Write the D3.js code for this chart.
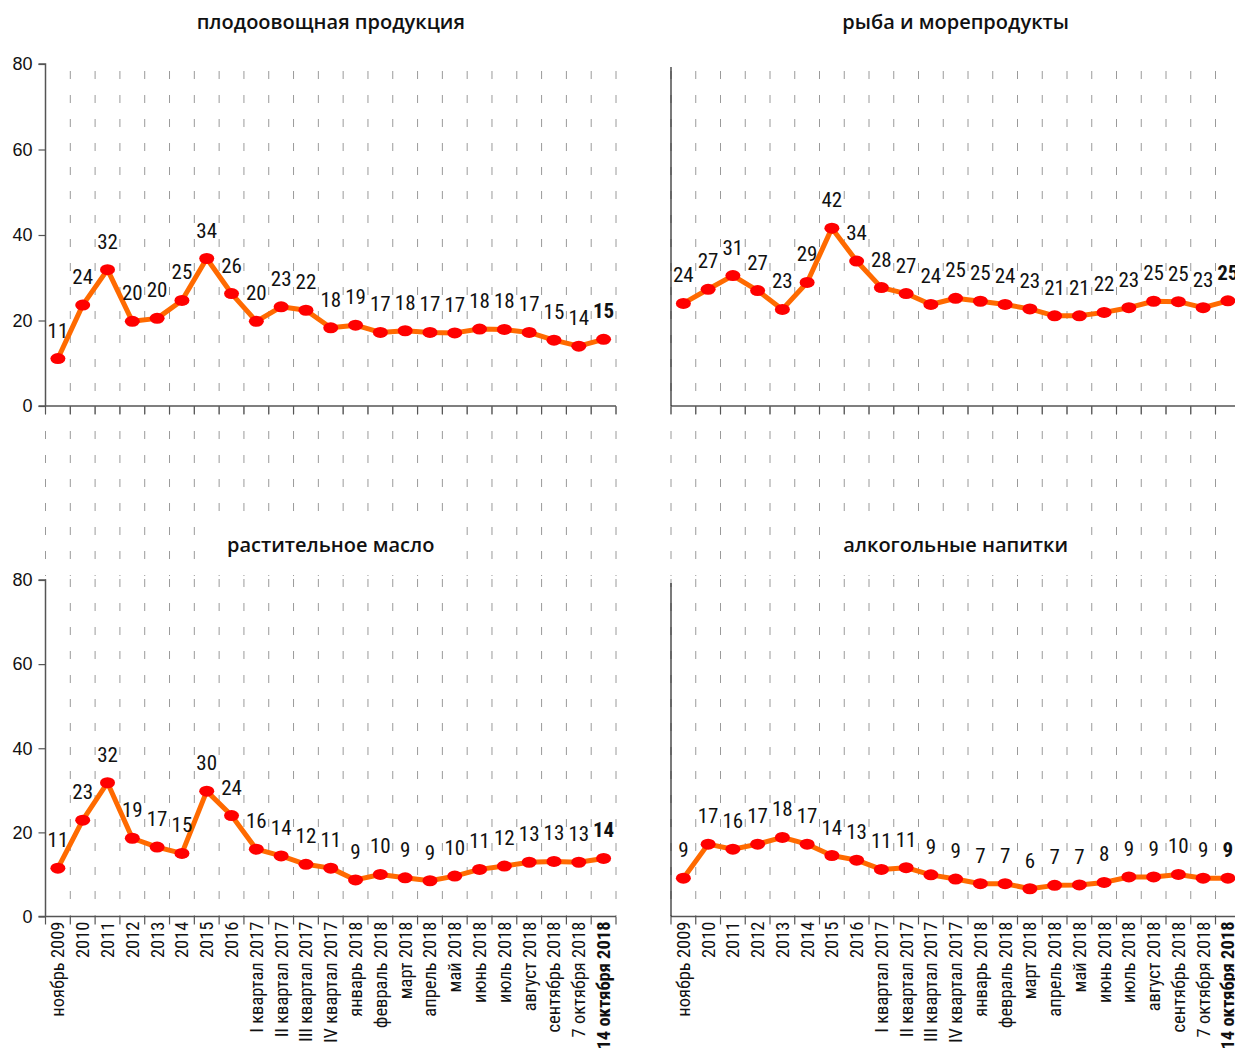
<!DOCTYPE html>
<html><head><meta charset="utf-8">
<script src="https://cdn.jsdelivr.net/npm/d3@7"></script>
<style>
body{margin:0;background:#fff;}
svg{display:block;}
</style></head>
<body><svg id="chart" width="1235" height="1050"></svg>
<script>
const categories = ["ноябрь 2009","2010","2011","2012","2013","2014","2015","2016",
  "I квартал 2017","II квартал 2017","III квартал 2017","IV квартал 2017",
  "январь 2018","февраль 2018","март 2018","апрель 2018","май 2018","июнь 2018",
  "июль 2018","август 2018","сентябрь 2018","7 октября 2018","14 октября 2018"];
const fruitVegValues = [11.1,23.6,31.9,19.8,20.5,24.7,34.5,26.3,19.8,23.2,22.4,18.3,18.9,17.2,17.6,17.2,17.1,18.0,17.9,17.2,15.4,14.0,15.6];
const fruitVegLabels = [11,24,32,20,20,25,34,26,20,23,22,18,19,17,18,17,17,18,18,17,15,14,15];
const fishValues = [24.0,27.3,30.5,27.0,22.6,28.9,41.6,33.9,27.7,26.3,23.75,25.2,24.5,23.75,22.7,21.1,21.1,21.9,23.0,24.5,24.4,23.0,24.6];
const fishLabels = [24,27,31,27,23,29,42,34,28,27,24,25,25,24,23,21,21,22,23,25,25,23,25];
const oilValues = [11.5,22.9,31.8,18.6,16.5,15.0,29.8,24.0,16.0,14.4,12.4,11.5,8.7,10.0,9.2,8.5,9.6,11.2,12.0,12.9,13.1,12.9,13.8];
const oilLabels = [11,23,32,19,17,15,30,24,16,14,12,11,9,10,9,9,10,11,12,13,13,13,14];
const alcoholValues = [9.1,17.2,16.0,17.2,18.8,17.2,14.5,13.4,11.2,11.6,9.9,8.9,7.8,7.8,6.6,7.4,7.5,8.1,9.4,9.4,10.0,9.1,9.1];
const alcoholLabels = [9,17,16,17,18,17,14,13,11,11,9,9,7,7,6,7,7,8,9,9,10,9,9];
const yTicks = [0,20,40,60,80];
const titles = ["плодоовощная продукция","рыба и морепродукты","растительное масло","алкогольные напитки"];

const narrow = "'Liberation Sans Narrow','Arial Narrow','Roboto Condensed','DejaVu Sans Condensed',sans-serif";
const regular = "'Liberation Sans',Arial,sans-serif";
const titleFont = "'Open Sans','Noto Sans',sans-serif";

const svg = d3.select("#chart");

const cols = [{x0:45.5, x1:616}, {x0:671, x1:1240.25}];
const rows = [{yTop:64, yBottom:406, gridTop:71, gridBottom:576, titleY:29},
              {yTop:580, yBottom:916.5, gridTop:579, gridBottom:916, titleY:552}];

const panels = [
  {col:0,row:0,values:fruitVegValues,labels:fruitVegLabels,title:titles[0],yAxis:true,xLabels:false},
  {col:1,row:0,values:fishValues,labels:fishLabels,title:titles[1],yAxis:false,xLabels:false},
  {col:0,row:1,values:oilValues,labels:oilLabels,title:titles[2],yAxis:true,xLabels:true},
  {col:1,row:1,values:alcoholValues,labels:alcoholLabels,title:titles[3],yAxis:false,xLabels:true}
];

const gGrid = svg.append("g");
const gMain = svg.append("g");

panels.forEach(p => {
  const c = cols[p.col], r = rows[p.row];
  const x = d3.scaleBand().domain(categories).range([c.x0, c.x1]).padding(0);
  const y = d3.scaleLinear().domain([0,80]).range([r.yBottom, r.yTop]);
  const bw = x.bandwidth();
  const bounds = d3.range(categories.length+1).map(k => c.x0 + k*bw);

  // vertical dashed grid
  gGrid.append("g").selectAll("line").data(bounds).join("line")
    .attr("x1", d=>d).attr("x2", d=>d)
    .attr("y1", r.gridTop).attr("y2", r.gridBottom)
    .attr("stroke", "#9a9a9a").attr("stroke-width", 1)
    .attr("stroke-dasharray", "8,16");

  const g = gMain.append("g");

  // title with white background
  const t = g.append("text")
    .attr("x", (c.x0 + c.x1)/2)
    .attr("y", r.titleY)
    .attr("text-anchor","middle")
    .style("font-family", titleFont).style("font-size","20px").style("font-weight","600")
    .attr("fill","#111").text(p.title);
  if (p.row === 1) {
    const bb = t.node().getBBox();
    g.insert("rect","text").attr("x", bb.x-12).attr("y", bb.y-6)
      .attr("width", bb.width+24).attr("height", bb.height+12).attr("fill","#fff");
  }

  // x axis
  g.append("line").attr("x1", c.x0 - (p.yAxis?7:0)).attr("x2", c.x1)
    .attr("y1", y(0)).attr("y2", y(0)).attr("stroke","#555").attr("stroke-width",1.5);
  g.append("g").selectAll("line").data(bounds).join("line")
    .attr("x1", d=>d).attr("x2", d=>d).attr("y1", y(0)).attr("y2", y(0)+8)
    .attr("stroke","#555").attr("stroke-width",1.2);

  // y axis
  if (p.yAxis) {
    const ax = d3.axisLeft(y).tickValues(yTicks).tickSize(7).tickPadding(6);
    const ga = g.append("g").attr("transform",`translate(${c.x0},0)`).call(ax);
    ga.select(".domain").attr("stroke","#555").attr("stroke-width",1.5).attr("d", `M-7,${r.yTop}H0V${r.yBottom}`);
    ga.selectAll(".tick line").attr("stroke","#555").attr("stroke-width",1.2);
    ga.selectAll(".tick text").style("font-family",regular).style("font-size","18px").attr("fill","#111");
  } else {
    g.append("line").attr("x1",c.x0).attr("x2",c.x0).attr("y1", r.yTop+3).attr("y2", y(0))
      .attr("stroke","#222").attr("stroke-width",1.2);
  }

  // category labels
  if (p.xLabels) {
    g.append("g").selectAll("text").data(categories).join("text")
      .attr("transform", d => `translate(${x(d)+bw/2},${y(0)+5}) rotate(-90)`)
      .attr("text-anchor","end").attr("dy","0.35em")
      .style("font-family",narrow).style("font-size","18.5px")
      .style("font-weight",(d,i)=> i===categories.length-1 ? "bold" : "normal")
      .attr("fill","#111").text(d=>d);
  }

  // line
  const line = d3.line().x((d,i)=>x(categories[i])+bw/2).y(d=>y(d));
  g.append("path").datum(p.values).attr("d", line)
    .attr("fill","none").attr("stroke","#FF6A00").attr("stroke-width",5).attr("stroke-linejoin","round");
  g.append("g").selectAll("ellipse").data(p.values).join("ellipse")
    .attr("cx",(d,i)=>x(categories[i])+bw/2).attr("cy",d=>y(d))
    .attr("rx",7.5).attr("ry",5.5).attr("fill","#FF0000");

  // value labels
  g.append("g").selectAll("text").data(p.values).join("text")
    .attr("x",(d,i)=>x(categories[i])+bw/2).attr("y",d=>y(d)-21)
    .attr("text-anchor","middle")
    .style("font-family",narrow).style("font-size","21px")
    .style("font-weight",(d,i)=> i===categories.length-1 ? "bold" : "normal")
    .attr("fill","#111").text((d,i)=>p.labels[i]);
});
</script></body></html>
